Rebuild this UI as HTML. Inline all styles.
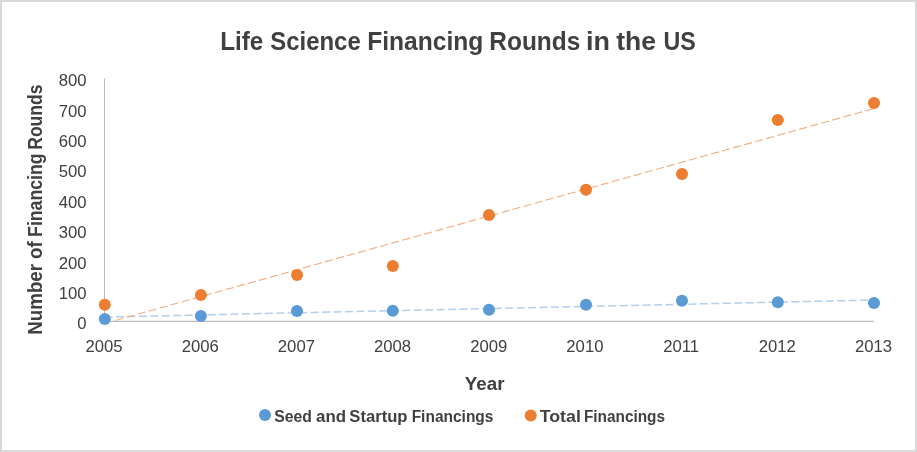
<!DOCTYPE html><html><head><meta charset="utf-8"><style>html,body{margin:0;padding:0;background:#fff;}svg{display:block;will-change:transform;}text{font-family:"Liberation Sans",sans-serif;}</style></head><body>
<svg width="917" height="452" viewBox="0 0 917 452">
<defs><clipPath id="pa"><rect x="104" y="70" width="780" height="251.2"/></clipPath></defs>
<rect x="0" y="0" width="917" height="452" fill="#fff"/>
<rect x="1" y="1" width="915" height="450" fill="none" stroke="#D9D9D9" stroke-width="2"/>
<text x="86.5" y="329.2" font-size="16.7" fill="#404040" text-anchor="end">0</text>
<text x="86.5" y="298.8" font-size="16.7" fill="#404040" text-anchor="end">100</text>
<text x="86.5" y="268.5" font-size="16.7" fill="#404040" text-anchor="end">200</text>
<text x="86.5" y="238.1" font-size="16.7" fill="#404040" text-anchor="end">300</text>
<text x="86.5" y="207.8" font-size="16.7" fill="#404040" text-anchor="end">400</text>
<text x="86.5" y="177.4" font-size="16.7" fill="#404040" text-anchor="end">500</text>
<text x="86.5" y="147.0" font-size="16.7" fill="#404040" text-anchor="end">600</text>
<text x="86.5" y="116.7" font-size="16.7" fill="#404040" text-anchor="end">700</text>
<text x="86.5" y="86.3" font-size="16.7" fill="#404040" text-anchor="end">800</text>
<text x="104.0" y="352.3" font-size="16.7" fill="#404040" text-anchor="middle">2005</text>
<text x="200.2" y="352.3" font-size="16.7" fill="#404040" text-anchor="middle">2006</text>
<text x="296.4" y="352.3" font-size="16.7" fill="#404040" text-anchor="middle">2007</text>
<text x="392.6" y="352.3" font-size="16.7" fill="#404040" text-anchor="middle">2008</text>
<text x="488.8" y="352.3" font-size="16.7" fill="#404040" text-anchor="middle">2009</text>
<text x="584.9" y="352.3" font-size="16.7" fill="#404040" text-anchor="middle">2010</text>
<text x="681.1" y="352.3" font-size="16.7" fill="#404040" text-anchor="middle">2011</text>
<text x="777.3" y="352.3" font-size="16.7" fill="#404040" text-anchor="middle">2012</text>
<text x="873.5" y="352.3" font-size="16.7" fill="#404040" text-anchor="middle">2013</text>
<line x1="104.5" y1="78.3" x2="104.5" y2="321.35" stroke="#BBBBBB" stroke-width="1"/>
<line x1="104" y1="321.35" x2="874.0" y2="321.35" stroke="#BBBBBB" stroke-width="1.3"/>
<line x1="104.5" y1="317.1" x2="874" y2="300.0" stroke="#B4CFEB" stroke-width="1.5" stroke-dasharray="8.1 3.35"/>
<g clip-path="url(#pa)"><line x1="104.5" y1="323.5" x2="874" y2="108.5" stroke="#F3AC7E" stroke-width="1.1" stroke-dasharray="8.1 3.35"/></g>
<circle cx="104.8" cy="304.7" r="6" fill="#ED7D31"/>
<circle cx="200.9" cy="295.0" r="6" fill="#ED7D31"/>
<circle cx="297" cy="274.9" r="6" fill="#ED7D31"/>
<circle cx="392.8" cy="266.0" r="6" fill="#ED7D31"/>
<circle cx="489" cy="214.9" r="6" fill="#ED7D31"/>
<circle cx="586" cy="189.7" r="6" fill="#ED7D31"/>
<circle cx="682" cy="174.0" r="6" fill="#ED7D31"/>
<circle cx="777.8" cy="120.0" r="6" fill="#ED7D31"/>
<circle cx="874" cy="102.9" r="6" fill="#ED7D31"/>
<circle cx="104.8" cy="318.9" r="6" fill="#5B9BD5"/>
<circle cx="200.9" cy="315.9" r="6" fill="#5B9BD5"/>
<circle cx="297" cy="311.0" r="6" fill="#5B9BD5"/>
<circle cx="392.8" cy="310.7" r="6" fill="#5B9BD5"/>
<circle cx="489" cy="309.7" r="6" fill="#5B9BD5"/>
<circle cx="586" cy="304.8" r="6" fill="#5B9BD5"/>
<circle cx="682" cy="300.7" r="6" fill="#5B9BD5"/>
<circle cx="777.8" cy="302.2" r="6" fill="#5B9BD5"/>
<circle cx="874" cy="303.1" r="6" fill="#5B9BD5"/>
<circle cx="265" cy="415" r="6" fill="#5B9BD5"/>
<circle cx="530.7" cy="415.5" r="6" fill="#ED7D31"/>
<text x="220.18" y="50.0" font-size="25.6" font-weight="bold" fill="#404040" textLength="43.05" lengthAdjust="spacingAndGlyphs">Life</text>
<text x="270.31" y="50.0" font-size="25.6" font-weight="bold" fill="#404040" textLength="90.41" lengthAdjust="spacingAndGlyphs">Science</text>
<text x="367.16" y="50.0" font-size="25.6" font-weight="bold" fill="#404040" textLength="116.09" lengthAdjust="spacingAndGlyphs">Financing</text>
<text x="489.37" y="50.0" font-size="25.6" font-weight="bold" fill="#404040" textLength="90.94" lengthAdjust="spacingAndGlyphs">Rounds</text>
<text x="585.92" y="50.0" font-size="25.6" font-weight="bold" fill="#404040" textLength="23.95" lengthAdjust="spacingAndGlyphs">in</text>
<text x="616.28" y="50.0" font-size="25.6" font-weight="bold" fill="#404040" textLength="39.73" lengthAdjust="spacingAndGlyphs">the</text>
<text x="663.40" y="50.0" font-size="25.6" font-weight="bold" fill="#404040" textLength="32.31" lengthAdjust="spacingAndGlyphs">US</text>
<text x="274.15" y="421.6" font-size="16.0" font-weight="bold" fill="#404040" textLength="37.69" lengthAdjust="spacingAndGlyphs">Seed</text>
<text x="316.01" y="421.6" font-size="16.0" font-weight="bold" fill="#404040" textLength="30.01" lengthAdjust="spacingAndGlyphs">and</text>
<text x="349.32" y="421.6" font-size="16.0" font-weight="bold" fill="#404040" textLength="58.16" lengthAdjust="spacingAndGlyphs">Startup</text>
<text x="411.66" y="421.6" font-size="16.0" font-weight="bold" fill="#404040" textLength="81.77" lengthAdjust="spacingAndGlyphs">Financings</text>
<text x="539.71" y="421.6" font-size="16.0" font-weight="bold" fill="#404040" textLength="41.11" lengthAdjust="spacingAndGlyphs">Total</text>
<text x="583.97" y="421.6" font-size="16.0" font-weight="bold" fill="#404040" textLength="81.06" lengthAdjust="spacingAndGlyphs">Financings</text>
<text x="464.79" y="390.0" font-size="18.6" font-weight="bold" fill="#404040" textLength="39.69" lengthAdjust="spacingAndGlyphs">Year</text>
<text transform="rotate(-90)" x="-334.65" y="41.7" font-size="19.3" font-weight="bold" fill="#404040" textLength="70.63" lengthAdjust="spacingAndGlyphs">Number</text>
<text transform="rotate(-90)" x="-258.93" y="41.7" font-size="19.3" font-weight="bold" fill="#404040" textLength="17.70" lengthAdjust="spacingAndGlyphs">of</text>
<text transform="rotate(-90)" x="-236.88" y="41.7" font-size="19.3" font-weight="bold" fill="#404040" textLength="83.46" lengthAdjust="spacingAndGlyphs">Financing</text>
<text transform="rotate(-90)" x="-149.77" y="41.7" font-size="19.3" font-weight="bold" fill="#404040" textLength="65.29" lengthAdjust="spacingAndGlyphs">Rounds</text>
</svg></body></html>
